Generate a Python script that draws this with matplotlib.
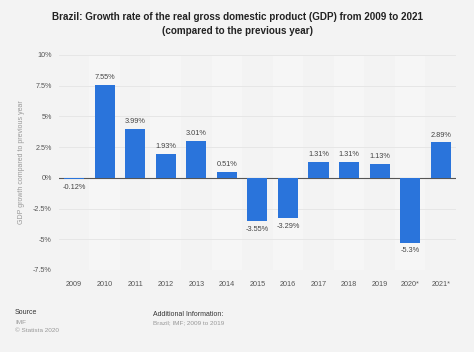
import numpy as np
import matplotlib
matplotlib.use('Agg')
import matplotlib.pyplot as plt

plt.rcParams['font.family'] = ['Liberation Sans', 'DejaVu Sans']

years = ['2009', '2010', '2011', '2012', '2013', '2014', '2015', '2016',
         '2017', '2018', '2019', '2020*', '2021*']
growth = [-0.12, 7.55, 3.99, 1.93, 3.01, 0.51, -3.55, -3.29, 1.31, 1.31, 1.13, -5.3, 2.89]
labels = ['-0.12%', '7.55%', '3.99%', '1.93%', '3.01%', '0.51%', '-3.55%', '-3.29%',
          '1.31%', '1.31%', '1.13%', '-5.3%', '2.89%']
yticks = [-7.5, -5, -2.5, 0, 2.5, 5, 7.5, 10]
ytick_labels = ['-7.5%', '-5%', '-2.5%', '0%', '2.5%', '5%', '7.5%', '10%']

bg = '#f3f3f3'
fig = plt.figure(figsize=[4.74, 3.52], dpi=100, facecolor=bg)
ax = fig.add_axes([0.124, 0.233, 0.838, 0.611])
ax.set_facecolor(bg)

x = np.arange(len(years))
# alternating column bands, very faint
for i in x:
    if i % 2 == 1:
        ax.axvspan(i - 0.5, i + 0.5, color='#f6f6f6', zorder=0, lw=0)

for t in yticks:
    ax.axhline(t, color='#e4e4e4', lw=0.6, zorder=1)

ax.axhline(0, color='#555555', lw=0.8, zorder=2)
ax.bar(x, growth, width=0.66, color='#2a74db', zorder=3)

for xi, v, s in zip(x, growth, labels):
    if v >= 0:
        ax.text(xi, v + 0.3, s, ha='center', va='bottom', fontsize=5.3, color='#444444')
    else:
        ax.text(xi, v - 0.35, s, ha='center', va='top', fontsize=5.3, color='#444444')

ax.set_xlim(-0.5, len(years) - 0.5)
ax.set_ylim(-7.5, 10)
ax.set_yticks(yticks)
ax.set_yticklabels(ytick_labels, fontsize=5.2, color='#555555')
ax.set_xticks(x)
ax.set_xticklabels(years, fontsize=5.2, color='#555555')
ax.tick_params(length=0, pad=8)
ax.tick_params(axis='y', pad=5)
for sp in ax.spines.values():
    sp.set_visible(False)
ax.set_ylabel('GDP growth compared to previous year', fontsize=5, color='#999999', labelpad=6)

fig.text(0.5, 0.965, 'Brazil: Growth rate of the real gross domestic product (GDP) from 2009 to 2021',
         ha='center', va='top', fontsize=7.1, fontweight='bold', color='#222222')
fig.text(0.5, 0.925, '(compared to the previous year)',
         ha='center', va='top', fontsize=7.1, fontweight='bold', color='#222222')

fig.text(15/474, 1 - 313/352, 'Source', fontsize=5.0, color='#333333', va='center')
fig.text(15/474, 1 - 322/352, 'IMF', fontsize=4.6, color='#999999', va='center')
fig.text(15/474, 1 - 331/352, '\u00a9 Statista 2020', fontsize=4.6, color='#999999', va='center')
fig.text(153/474, 1 - 314/352, 'Additional Information:', fontsize=5.0, color='#333333', va='center')
fig.text(153/474, 1 - 323/352, 'Brazil; IMF; 2009 to 2019', fontsize=4.6, color='#999999', va='center')

plt.savefig('out.png', dpi=100, facecolor=bg)
